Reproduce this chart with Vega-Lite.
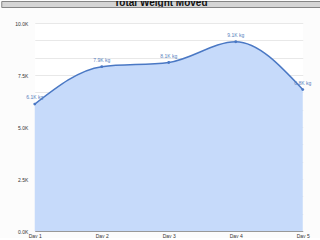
{
  "$schema": "https://vega.github.io/schema/vega-lite/v6.json",
  "background": "#fcfcfc",
  "padding": {"left": 0, "top": 0, "right": 0, "bottom": 0},
  "spacing": 13,
  "center": true,
  "config": {
    "font": "Liberation Sans",
    "view": {"stroke": null}
  },
  "datasets": {
    "header": [{"title": "Total Weight Moved"}],
    "workouts": [
      {"day": "Day 1", "weight": 6100},
      {"day": "Day 2", "weight": 7900},
      {"day": "Day 3", "weight": 8100},
      {"day": "Day 4", "weight": 9100},
      {"day": "Day 5", "weight": 6800}
    ]
  },
  "vconcat": [
    {
      "width": 343,
      "height": 6,
      "view": {"fill": "#d5d5d5", "stroke": "#858585", "strokeWidth": 1},
      "data": {"name": "header"},
      "mark": {"type": "text", "clip": true, "font": "Liberation Sans", "fontWeight": "bold", "fontSize": 10, "baseline": "alphabetic", "dy": 2, "dx": -12, "color": "#111111"},
      "encoding": {"text": {"field": "title"}}
    },
    {
      "width": 268,
      "height": 208,
      "view": {"fill": "#ffffff", "stroke": null},
      "data": {"name": "workouts"},
      "transform": [
        {"calculate": "format(datum.weight / 1000, '.1f') + 'K kg'", "as": "label"}
      ],
      "encoding": {
        "x": {
          "field": "day",
          "type": "ordinal",
          "scale": {"type": "point", "padding": 0},
          "axis": {
            "title": null,
            "labelAngle": 0,
            "labelFontSize": 5,
            "labelColor": "#333333",
            "labelPadding": 2,
            "ticks": false,
            "domainColor": "#999999",
            "grid": false
          }
        },
        "y": {
          "field": "weight",
          "type": "quantitative",
          "scale": {"domain": [0, 10000], "nice": false, "zero": true},
          "axis": {
            "title": null,
            "values": [0, 833.333, 1666.667, 2500, 3333.333, 4166.667, 5000, 5833.333, 6666.667, 7500, 8333.333, 9166.667, 10000],
            "labelExpr": "abs(datum.value / 2500 - round(datum.value / 2500)) < 0.001 ? format(datum.value / 1000, '.1f') + 'K' : ''",
            "labelFontSize": 5,
            "labelColor": "#333333",
            "labelPadding": 7,
            "ticks": false,
            "domain": false,
            "gridColor": "#e8e8e8",
            "minExtent": 32,
            "maxExtent": 32
          }
        }
      },
      "layer": [
        {
          "mark": {"type": "area", "interpolate": "monotone", "color": "#c6dafa", "opacity": 1}
        },
        {
          "mark": {"type": "line", "interpolate": "monotone", "color": "#4a78c4", "strokeWidth": 1.5}
        },
        {
          "mark": {"type": "point", "filled": true, "size": 8, "color": "#4a78c4", "opacity": 1}
        },
        {
          "mark": {"type": "text", "fontSize": 5, "color": "#5a7fbd", "dy": -7},
          "encoding": {"text": {"field": "label"}}
        }
      ]
    }
  ]
}
